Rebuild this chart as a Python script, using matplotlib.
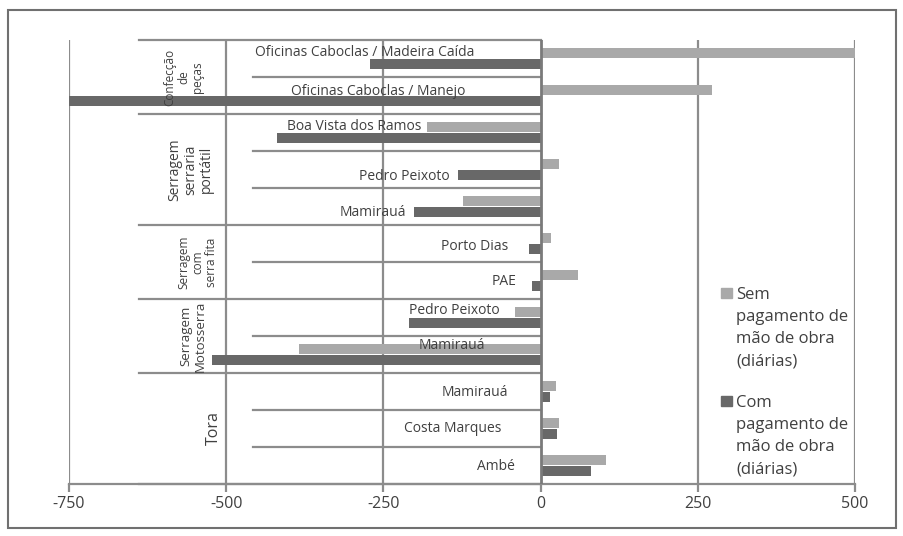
import matplotlib
matplotlib.use("Agg")
import matplotlib.pyplot as plt
from matplotlib.patches import Rectangle

# ---------------- data ----------------
categories = ["Oficinas Caboclas / Madeira Caída", "Oficinas Caboclas / Manejo",
              "Boa Vista dos Ramos", "Pedro Peixoto", "Mamirauá",
              "Porto Dias", "PAE",
              "Pedro Peixoto", "Mamirauá",
              "Mamirauá", "Costa Marques", "Ambé"]
groups = ["Confecção\nde\npeças", "Serragem\nserraria\nportátil",
          "Serragem\ncom\nserra fita", "Serragem\nMotosserra", "Tora"]
group_sizes = [2, 3, 2, 2, 3]
sem_pagamento = [500, 273, -180, 29, -124, 16, 60, -40, -385, 25, 29, 104]
com_pagamento = [-271, -750, -420, -132, -201, -19, -14, -209, -522, 15, 26, 80]
x_ticks = [-750, -500, -250, 0, 250, 500]
legend_labels = ["Sem\npagamento de\nmão de obra\n(diárias)",
                 "Com\npagamento de\nmão de obra\n(diárias)"]

# ---------------- layout / style ----------------
label_x = [-105, -119, -190, -145, -214, -52, -38, -65, -89, -52, -62, -41]
label_dy = [-0.15, -0.12, -0.15, 0.18, 0.15, 0.07, 0.04, -0.18, -0.23, 0.04, 0.0, 0.04]
group_x = [-568, -557, -545, -553, -520]
group_fs = [8.5, 10, 8.5, 9.5, 11.5]

LIGHT = "#a9a9a9"
DARK = "#686868"
GRID = "#8c8c8c"
TEXT = "#404040"
W, H = 904, 536

plt.rcParams["font.family"] = ["Open Sans", "DejaVu Sans"]

fig = plt.figure(figsize=(W / 100, H / 100), dpi=100)
ax = fig.add_axes([69 / W, 1 - 484 / H, (855 - 69) / W, (484 - 40) / H])

n = len(categories)
ys = list(range(n))
bh = 0.28
ax.barh([y - 0.15 for y in ys], sem_pagamento, height=bh, color=LIGHT, zorder=3)
ax.barh([y + 0.15 for y in ys], com_pagamento, height=bh, color=DARK, zorder=3)

ax.set_xlim(-750, 500)
ax.set_ylim(n - 0.5, -0.5)

# vertical gridlines
for t in x_ticks:
    if t == 0:
        continue
    ax.axvline(t, color=GRID, lw=1.6, zorder=1)
ax.axvline(0, color="#7a7a7a", lw=2, zorder=4)

# category dividers
bounds = [-0.5]
for s in group_sizes:
    bounds.append(bounds[-1] + s)
for b in bounds:
    ax.plot([-638, 0], [b, b], color=GRID, lw=1.6, zorder=2, clip_on=False)
start = -0.5
for s in group_sizes:
    for k in range(1, s):
        ax.plot([-457, 0], [start + k, start + k], color=GRID, lw=1.6, zorder=2)
    start += s

# category labels
for i, lab in enumerate(categories):
    ax.text(label_x[i], i + label_dy[i], lab, ha="right", va="center",
            fontsize=10, color=TEXT, zorder=5)

# group labels
start = -0.5
for g, s, gx, fs in zip(groups, group_sizes, group_x, group_fs):
    ax.text(gx, start + s / 2, g, rotation=90, ha="center", va="center",
            multialignment="center", fontsize=fs, color=TEXT, zorder=5,
            linespacing=1.1)
    start += s

# axes styling
for sp in ["top", "right", "left"]:
    ax.spines[sp].set_visible(False)
ax.spines["bottom"].set_color(GRID)
ax.spines["bottom"].set_linewidth(1.6)
ax.set_yticks([])
ax.set_xticks(x_ticks)
ax.set_xticklabels([str(t) for t in x_ticks], fontsize=11.5, color=TEXT,
                   family=["Liberation Sans Narrow", "Open Sans", "DejaVu Sans"])
ax.tick_params(axis="x", length=6, width=1.6, color=GRID, pad=2.5)

# legend (manual)
for lab, col, ytop in zip(legend_labels, [LIGHT, DARK], [288, 396]):
    fig.patches.append(Rectangle((721 / W, 1 - (ytop + 10) / H), 11 / W, 10 / H,
                                 transform=fig.transFigure, color=col))
    fig.text(736 / W, 1 - (ytop - 1) / H, lab, ha="left", va="top",
             fontsize=12, color=TEXT, linespacing=1.5)

# outer frame
fig.patches.append(Rectangle((8 / W, 1 - 528 / H), (896 - 8) / W, (528 - 10) / H,
                             transform=fig.transFigure, fill=False,
                             edgecolor="#707070", lw=1.5))

fig.savefig("out.png", dpi=100, facecolor="white")
